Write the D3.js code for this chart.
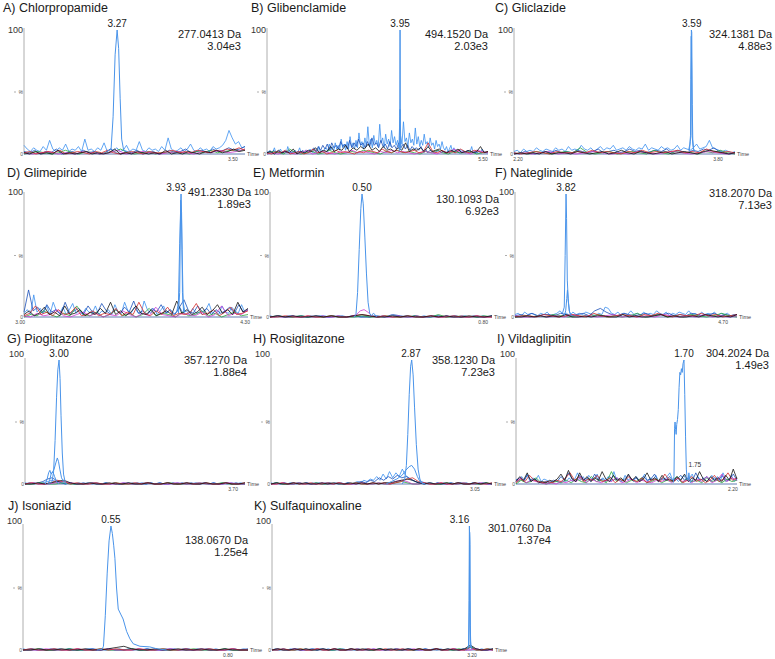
<!DOCTYPE html>
<html><head><meta charset="utf-8">
<script src="https://cdn.jsdelivr.net/npm/d3@7"></script>
<style>
body{margin:0;background:#fff}
svg{display:block}
text{font-family:"Liberation Sans",Arial,sans-serif}
</style>
</head><body>
<svg id="chart" width="775" height="659"></svg>
<script>
// ---------------- DATA ----------------
const titles = ["A) Chlorpropamide","B) Glibenclamide","C) Gliclazide","D) Glimepiride","E) Metformin","F) Nateglinide","G) Pioglitazone","H) Rosiglitazone","I) Vildaglipitin","J) Isoniazid","K) Sulfaquinoxaline"];
const massLabels = ["277.0413 Da","494.1520 Da","324.1381 Da","491.2330 Da","130.1093 Da","318.2070 Da","357.1270 Da","358.1230 Da","304.2024 Da","138.0670 Da","301.0760 Da"];
const intensityLabels = ["3.04e3","2.03e3","4.88e3","1.89e3","6.92e3","7.13e3","1.88e4","7.23e3","1.49e3","1.25e4","1.37e4"];
const peakTimes = [3.27,3.95,3.59,3.93,0.50,3.82,3.00,2.87,1.70,0.55,3.16];
const peakLabels = ["3.27","3.95","3.59","3.93","0.50","3.82","3.00","2.87","1.70","0.55","3.16"];
const timeDomains = [[3.085,3.524],[1.464,5.593],[2.168,3.936],[3.022,4.317],[0.272,0.822],[3.534,4.778],[2.863,3.748],[2.476,3.098],[-0.014,2.241],[0.362,0.843],[0,3.536]];
const timeTicks = [[3.50],[5.50],[2.20,3.80],[3.00,4.30],[0.80],[4.70],[3.70],[3.05],[2.20],[0.80],[3.20]];
const extraPeakLabels = [{panel:8, t:1.75, v:12, text:"1.75"}];

// main chromatogram peaks: [time, relative intensity %]
const mainTraces = [
  [[3.250,2],[3.258,4],[3.262,30],[3.266,80],[3.270,100],[3.273,85],[3.276,45],[3.279,12],[3.283,3],[3.290,2]],
  [[3.930,5],[3.945,30],[3.950,100],[3.955,25],[3.965,6]],
  [[3.565,3],[3.575,8],[3.580,15],[3.583,60],[3.587,100],[3.590,98],[3.594,40],[3.598,12],[3.605,4],[3.615,2]],
  [[3.905,4],[3.915,12],[3.922,60],[3.930,100],[3.936,55],[3.942,12],[3.952,4]],
  [[0.480,0],[0.485,2],[0.489,20],[0.493,55],[0.497,88],[0.500,100],[0.503,92],[0.507,65],[0.511,35],[0.515,12],[0.519,3],[0.523,1],[0.528,3],[0.532,2],[0.536,0]],
  [[3.800,3],[3.810,8],[3.815,50],[3.820,100],[3.823,80],[3.827,30],[3.832,15],[3.838,5],[3.845,2]],
  [[2.960,0],[2.972,2],[2.978,10],[2.984,35],[2.990,70],[2.995,92],[3.000,100],[3.004,85],[3.008,55],[3.013,25],[3.018,8],[3.024,2],[3.030,0]],
  [[2.845,0],[2.852,3],[2.857,15],[2.861,40],[2.865,72],[2.869,95],[2.872,100],[2.876,88],[2.880,62],[2.885,32],[2.890,12],[2.895,4],[2.900,1],[2.910,0]],
  [[1.590,1],[1.598,6],[1.604,45],[1.609,50],[1.614,44],[1.620,40],[1.626,48],[1.634,52],[1.642,60],[1.650,78],[1.658,90],[1.666,88],[1.674,93],[1.682,90],[1.690,97],[1.700,100],[1.708,72],[1.716,38],[1.724,12],[1.732,4],[1.742,3],[1.750,9],[1.758,4],[1.768,1]],
  [[0.520,0],[0.531,0.5],[0.534,3],[0.538,28],[0.542,62],[0.546,88],[0.550,100],[0.553,94],[0.556,84],[0.5585,74],[0.562,50],[0.5656,33],[0.5707,29],[0.576,25],[0.5835,15],[0.5906,9],[0.5977,5],[0.612,3],[0.633,2.5],[0.6477,1],[0.669,0]],
  [[3.130,1],[3.145,4],[3.152,40],[3.158,100],[3.163,90],[3.168,40],[3.175,8],[3.185,2],[3.200,1]]
];
// secondary traces under the main peaks
const secondTraces = [
  [],
  [[[3.935,2],[3.945,15],[3.950,36],[3.955,12],[3.965,3]]],
  [[[3.570,2],[3.578,10],[3.582,14],[3.586,95],[3.589,70],[3.593,15],[3.600,6],[3.610,2]]],
  [[[3.915,3],[3.922,20],[3.928,95],[3.933,85],[3.938,20],[3.945,4]]],
  [],
  [[[3.810,1],[3.818,5],[3.824,15],[3.828,22],[3.833,12],[3.840,4],[3.850,1]]],
  [[[2.955,0],[2.962,3],[2.968,8],[2.975,10],[2.980,12],[2.987,17],[2.993,21],[2.998,18],[3.003,12],[3.010,5],[3.020,1]],
   [[2.945,0],[2.952,4],[2.958,9],[2.963,11],[2.968,8],[2.975,10],[2.982,6],[2.990,2],[3.000,0]]],
  [[[2.800,0],[2.815,2],[2.830,4],[2.845,7],[2.855,11],[2.865,14],[2.872,15],[2.880,12],[2.888,6],[2.895,2],[2.905,0]]],
  [],
  [],
  [[[3.150,2],[3.157,30],[3.162,95],[3.167,85],[3.172,20],[3.180,4],[3.190,1]]]
];

// baseline noise traces, evenly sampled over each panel's time range (%)
const noiseBlue = [
  [7,4,2,5,3,2,6,3,11,4,2,5,3,8,2,4,3,6,2,12,3,4,2,5,3,9,2,4,3,5,2,3,7,2,4,3,10,3,2,5,3,4,2,6,3,13,4,2,3,5,2,4,8,3,2,5,3,4,2,6,4,5,7,11,19,13,8,10,5,6],
  [2,1,3,1,2,5,1,2,1,4,2,1,3,1,6,2,1,2,1,3,1,2,5,1,2,1,3,2,1,4,2,1,3,1,2,6,1,3,2,4,
   5,2,8,3,6,2,9,4,7,3,12,5,8,3,10,4,14,6,9,4,11,5,17,7,10,4,13,6,22,7,12,5,15,8,11,6,24,9,13,5,16,8,12,6,19,9,14,7,11,5,15,8,26,10,13,6,17,9,12,7,21,8,14,6,11,7,16,8,10,5,13,7,9,4,11,6,8,4,10,5,
   3,6,2,4,7,2,5,2,3,1,4,2,3,2,1,3,1,2,6,1,2,1,3,2,1,4,2,1,2,1],
  [2,3,1,4,2,3,2,5,3,2,4,3,2,5,3,4,2,6,3,4,3,7,4,3,5,2,4,6,3,5,4,7,3,4,5,3,6,4,3,5,4,8,3,5,4,3,6,4,5,3,4,7,3,5,4,3,5,8,4,5,6,11,5,4,3,2,3,2,1,2],
  [3,6,2,18,4,7,3,9,2,12,5,3,8,2,6,11,3,5,2,7,4,3,9,2,5,3,6,2,10,4,3,12,5,3,8,4,2,13,6,3,7,2,5,9,3,6,2,4,8,3,5,2,7,3,4,2,6,11,3,5,2,9,4,3,8,5,3,10,4,6],
  [1,0,1,0,1,1,0,1,0,1,0,1,1,0,1,0,1,0,1,1,0,1,0,1,0,1,0,1,1,0,1,0,1,0,1,0,1,1,0,1,0,1,0,1,0,1,0,1,0,1],
  [2,3,1,4,2,3,2,1,3,2,4,1,2,3,5,2,3,1,4,2,3,2,4,3,2,1,3,2,8,7,3,2,4,1,3,2,5,2,3,1,4,2,3,2,5,3,2,4,1,3,2,4,3,2,5,2,3,1,4,2,3,2,4,1,3,2,3,1,2,2],
  [1,0,1,0,1,2,3,2,1,0,1,0,1,0,1,0,1,0,1,0,1,0,1,0,1,0,1,0,1,0,1,0,1,0,1,0,1,0,1,0,1,0,1,0,1,0,1,0,1,0],
  [1,0,1,0,1,0,1,1,0,1,0,1,0,1,0,1,0,1,1,0,1,0,1,0,1,0,1,2,1,3,2,4,3,6,3,8,4,10,5,9,6,12,7,5,3,2,1,2,1,0,1,0,1,0,1,0,1,0,1,1,0,1,0,1,0,1,0,1,0,1],
  [4,2,6,3,8,2,5,3,7,2,4,3,2,1,3,2,1,3,2,5,2,4,9,3,6,2,7,4,3,8,2,5,3,6,2,10,3,4,2,7,3,5,2,6,3,4,8,2,5,3,7,2,4,3,6,9,3,5,2,4,7,3,5,8,2,6,3,5,2,4,7,3,6,2,9,4,3,7,2,5],
  [1,0,1,0,1,0,1,0,1,0,1,0,1,0,1,1,0,1,0,1,0,1,0,1,0,1,0,1,0,1,0,1,0,1,0,1,1,0,1,0,1,0,1,0,1,0,1,0,1,0],
  [0,1,0,1,0,1,0,1,0,1,0,1,0,1,0,1,0,1,0,1,0,1,0,1,0,1,0,1,0,1,0,1,0,1,0,1,0,1,0,1,0,1,0,1,0,1,0,1,0,1,0,1,0,3,1,0,1,0,1,0]
];
const noiseNavy = [
  [2,1,3,0,2,1,4,0,1,2,0,3,1,2,0,1,4,1,0,2,1,3,0,1,2,0,1,3,1,2,4,1,2,3,1,4,2,3,5,3,4,6],
  [1,2,1,3,1,2,1,1,2,1,3,1,2,1,2,1,3,1,2,2,
   3,5,2,6,3,7,4,8,3,9,5,7,4,10,6,8,4,11,5,9,6,12,7,9,5,10,6,13,7,9,5,11,6,8,4,10,5,7,4,9,5,8,4,7,3,6,4,5,3,6,
   2,4,1,3,2,1,2,3,1,2,1,2,1,3,1,2,1,1,2,1,3,1,2,1,1,2,1,2,1,1],
  [1,0,2,1,0,1,2,1,3,1,2,1,3,2,1,2,4,1,2,3,1,2,4,2,3,1,2,3,2,4,1,3,2,1,3,2,4,3,5,2,1,0,1],
  [4,22,5,8,3,10,4,6,2,12,3,5,7,2,9,4,3,11,5,2,6,3,8,4,13,3,5,2,7,4,10,3,6,2,8,14,5,3,9,4,7,2,6,3,5,8,3,10,4,6],
  [0,1,0,0,1,0,1,0,0,1,0,1,0,0,1,0,2,1,0,1,0,0,1,0,1,0,0,1,0,1],
  [1,2,1,3,1,2,2,1,3,2,1,2,3,1,5,7,4,2,1,3,2,1,2,3,1,2,2,3,1,2,1,3,2,1,2,3,1,2,1,2],
  [0,1,0,1,2,4,5,3,1,0,1,0,0,1,0,1,0,0,1,0,1,0,0,1,0,1,0,0,1,0,1,0,0,1,0,1,0,1,0,0,1,0,1,0,0,1,0,1,0,0],
  [0,1,0,1,0,0,1,0,1,0,1,0,0,1,0,1,0,1,0,1,2,1,3,2,5,3,6,4,7,5,6,4,2,1,0,1,0,1,0,0,1,0,1,0,0,1,0,1,0,0],
  [3,5,2,7,3,4,2,1,2,1,3,2,6,3,9,4,2,7,3,5,2,8,3,4,2,6,3,5,2,4,7,3,5,2,6,3,4,8,2,5,3,6,2,4,7,3,5,2,9,3,4,6,2,5,3,7,2,4,8,3],
  [0,1,0,0,1,0,1,0,0,1,0,1,0,0,1,0,1,0,0,1,0,1,0,0,1,0,0,1,0,1],
  [0,0,1,0,1,0,0,1,0,1,0,0,1,0,1,0,0,1,0,1,0,0,1,0,1,0,0,1,0,1,0,0,1,0,1,2,1,0,0,1]
];
const noiseBlack = [
  [1,0,2,0,1,0,3,0,1,0,1,2,0,1,0,1,4,0,1,0,2,1,0,1,0,3,0,1,0,2,1,0,2,1,3,1,2,4,2,3],
  [1,2,0,3,1,2,1,4,0,2,1,3,2,5,1,3,2,6,2,4,3,7,2,5,3,6,4,8,3,5,2,6,3,4,2,5,3,9,2,4,3,5,2,6,2,3,4,2,1,3,2,4,1,2,3,1,2,6,1,2],
  [0,1,0,1,0,2,0,1,1,0,2,1,0,1,2,0,1,3,1,0,2,1,0,1,2,0,1,2,1,0,2,3,2,1,0,1],
  [2,5,1,3,8,2,4,1,9,2,3,6,1,4,2,7,3,12,2,5,1,4,9,3,2,6,1,3,5,2,13,3,6,2,4,8,2,5,10,3,6,2,12,4,7],
  [0,1,0,1,0,0,1,0,1,0,0,1,2,1,0,0,1,0,1,0,0,1,0,1,0,0,1,0,0,1],
  [0,0,1,0,1,0,1,0,2,0,0,1,0,1,1,0,0,2,0,1,0,0,1,2,0,1,0,0,1,0,2,1,0,1,0,2],
  [0,0,1,0,1,2,3,1,0,0,1,0,0,1,0,0,1,0,0,1,0,0,1,0,0,1,0,0,1,0,0,1,0,0,1],
  [0,1,0,0,1,0,1,0,0,1,0,1,0,0,1,0,1,0,1,0,1,1,2,3,4,3,1,0,1,0,0,1,0,1,0,0,1,0,1,0],
  [2,6,3,9,2,4,1,2,1,3,2,4,8,3,11,4,2,9,3,6,2,5,3,10,4,2,7,3,5,2,8,3,6,2,4,9,3,5,2,7,3,4,2,6,3,8,2,5,3,10,4,2,6,3,5,2,7,3,12,4],
  [0,0,1,0,0,1,0,0,1,0,0,1,2,3,1,0,0,1,0,0,1,0,0,1,0,0,1,0,0,0],
  [0,1,0,0,1,0,1,0,0,1,0,1,0,0,1,0,1,0,0,1,0,1,0,0,1,0,1,0,0,1,0,1,0,0,1,4,1,0,0,1]
];
const noiseRed = [
  [1,2,0,1,2,1,3,0,1,2,1,0,2,1,3,1,0,1,2,1,0,2,1,1,2,3,1,2,1,3,2,1,3,2,4,3,5,3],
  [1,0,2,1,3,0,1,2,0,1,4,1,2,0,1,3,1,2,1,0,2,1,3,2,1,4,2,1,3,2,1,2,3,1,2,9,2,1,3,1,2,1,4,2,1,3,2,1,2],
  [1,0,1,2,1,0,2,1,1,2,1,3,1,2,1,0,2,1,3,1,2,1,2,3,1,2,1,4,2,1,2,1],
  [1,3,9,2,4,1,6,2,3,8,1,2,5,1,3,2,7,1,4,2,12,3,1,5,2,8,1,3,2,4,11,2,3,6,1,4,8,2,3,5],
  [0,0,1,0,0,1,0,0,1,0,0,1,2,1,0,1,0,0,1,0,0,1,0,0,1,0,0,1,0,0],
  [0,1,1,0,2,1,0,1,2,1,0,3,1,0,1,2,1,0,2,1,3,1,0,2,1,1,3,1,2,0,1,2],
  [0,1,0,0,1,3,2,0,1,0,0,1,0,0,1,0,0,1,0,1,0,0,1,0,0,1,0,0,1,0,0,1,0,0,1],
  [0,0,1,0,1,0,0,1,0,0,1,0,1,0,0,1,0,0,1,0,1,0,1,2,4,5,2,1,0,0,1,0,0,1,0,0,1,0,0,1],
  [1,4,2,7,3,2,1,2,1,3,2,5,9,3,6,2,4,3,7,2,3,5,1,4,2,6,3,2,5,1,3,4,2,8,3,2,5,1,3,6,2,4,1,3,7,2,4,9,3,5],
  [0,1,0,0,1,0,0,1,0,0,1,0,1,0,0,1,0,0,1,0,0,1,0,0,1,0,0,1,0,0],
  [0,0,1,0,0,1,0,0,1,0,0,1,0,0,1,0,0,1,0,0,1,0,0,1,0,0,1,0,0,1,0,0,1,0,0,2,0,0,1,0]
];
const noiseGreen = [
  [0,1,2,1,0,1,3,1,0,2,1,0,1,2,4,1,0,1,2,0,1,1,2,1,0,2,1,3,1,2,3,2,4],
  [0,2,1,0,4,1,0,1,2,0,1,3,1,0,1,2,1,3,2,1,0,2,1,3,1,2,1,0,2,1,3,1,0,2,1,1,2,0,1,2],
  [0,1,0,2,1,0,1,2,1,5,1,0,1,2,0,1,2,1,0,3,1,0,2,1,1,0,2,1,3,1,0],
  [0,2,1,5,2,0,3,1,9,2,1,4,0,2,6,1,3,0,2,7,1,3,2,0,4,1,2,5,1,3,0,2,4,1,2],
  [0,1,0,0,1,0,0,0,1,0,0,0,1,0,0,1,0,0,0,1,0,0,2,0,0,1,0,0,1,0],
  [0,1,0,1,0,2,1,0,1,0,1,2,0,1,0,1,3,0,1,2,0,1,0,2,1,0,1,3,1,0],
  [0,0,1,0,0,1,0,0,0,1,0,0,1,0,0,0,1,0,0,1,0,0,0,1,0,0,1,0,0,0],
  [0,1,0,0,0,1,0,0,1,0,0,0,1,0,0,1,0,0,0,1,0,0,1,2,1,0,0,1,0,0,0,1,0,0,1,0,0,0,1,0],
  [0,3,1,2,5,1,0,1,2,1,3,1,4,2,1,6,2,3,1,10,2,4,1,3,2,5,1,2,4,1,3,2,6,1,4,2,3,1,5,2,3,1,4,2,3],
  [0,0,1,0,0,0,1,0,0,0,1,0,0,0,1,0,0,0,1,0,0,0,1,0,0,0,1,0,0,0],
  [0,1,0,0,0,1,0,0,1,0,0,0,1,0,0,1,0,0,0,1,0,0,1,0,0,0,1,0,0,1,0,0,0,1,0,3,0,0,1,0]
];
const noiseMagenta = [
  [1,0,1,2,0,1,0,2,1,0,1,3,0,1,2,1,0,1,2,1,0,2,1,3,1,2,4],
  [0,1,0,2,1,0,1,3,0,1,2,1,0,2,1,3,1,2,1,0,2,1,3,1,2,1,0,1,2,1,0,2,1,4,2,1,0,3,2,1],
  [0,1,0,1,2,0,1,0,1,2,1,0,1,0,2,1,0,1,2,1,0,1,2,1,0,1],
  [1,0,3,1,2,6,1,0,2,4,1,3,0,2,1,5,2,0,3,1,8,2,1,0,3,2,1,4,0,2,9,1,3,2,6],
  [0,0,1,0,0,0,1,0,0,0,1,0,0,0,1,0,0,0,1,0,0,0,1,2,5,6,4,1,0,0,1,0,0,0,1,0,0,0,0,1,0,0,0,1,0,0,0,1,0,0,0,1,0,0,0,1,0,0,0,0],
  [1,0,0,1,0,1,0,2,0,1,0,1,2,0,1,0,1,0,2,1,0,1,0,2,0,1,0,1],
  [0,1,0,0,1,2,1,0,0,1,0,0,0,1,0,0,1,0,0,0,1,0,0,1,0,0,0,1,0,0],
  [0,0,1,0,0,1,0,0,0,1,0,0,1,0,0,0,1,0,0,1,0,0,2,3,2,0,0,1,0,0,1,0,0,0,1,0,0,1,0,0],
  [2,5,1,3,2,1,0,1,0,2,1,3,2,6,1,4,2,1,3,2,5,1,2,4,1,3,2,1,3,2,4,1,5,2,3,1,4,2,6,1,3,8,2,5,3],
  [0,0,0,1,0,0,0,1,0,0,0,1,0,0,0,1,0,0,0,1,0,0,0,1,0,0,0,1,0,0],
  [0,1,0,0,1,0,0,0,1,0,0,1,0,0,0,1,0,0,1,0,0,0,1,0,0,1,0,0,0,1,0,0,1,0,0,0,1,0,0,0]
];

// ---------------- LAYOUT / STYLE ----------------
const plotX0 = [24,267,514,24,270,515,25,271,516,23,272];
const plotX1 = [245,488,735,248,492,737,245,492,737,248,493];
const rowTop = [30,194,360,526];
const rowBase = [154,317,484,650];
const row100 = [30,192,354,521];
const titleX = [3,251,495,7,253,495,7,253,497,8,254];
const titleY = [12,177,343,510];
const massPos = [[241,38],[488,38],[772,38],[251,196],[499,203],[772,197],[247,364],[495,364],[769,357],[248,544],[551,532]];
const peakLabelDx = [0,0,0,-5,0,0,0,0,0,0,-10];
const colors = {blue:"#3a8ff0", navy:"#1b4fb8", black:"#141414", red:"#d42a2a", green:"#2aa43a", magenta:"#d03ad0", main:"#4a94ea"};

// ---------------- DRAW ----------------
const svg = d3.select("#chart");
const noiseSets = [["blue",noiseBlue],["navy",noiseNavy],["green",noiseGreen],["magenta",noiseMagenta],["red",noiseRed],["black",noiseBlack]];

titles.forEach((title, i) => {
  const r = Math.floor(i / 3);
  const g = svg.append("g");
  const x = d3.scaleLinear().domain(timeDomains[i]).range([plotX0[i], plotX1[i]]);
  const y = d3.scaleLinear().domain([0, 100]).range([rowBase[r], rowTop[r]]);
  const line = d3.line().x(d => x(d[0])).y(d => y(d[1]));

  // title
  g.append("text").attr("x", titleX[i]).attr("y", titleY[r]).attr("font-size", 12.5).attr("fill", "#1a1a1a").text(title);

  // axes
  g.append("line").attr("x1", plotX0[i]).attr("x2", plotX0[i]).attr("y1", rowTop[r] - 2).attr("y2", rowBase[r]).attr("stroke", "#9a9a9a").attr("stroke-width", 0.8);
  g.append("line").attr("x1", plotX0[i]).attr("x2", plotX1[i]).attr("y1", rowBase[r]).attr("y2", rowBase[r]).attr("stroke", "#3a5aa0").attr("stroke-width", 0.8);
  g.append("text").attr("x", plotX0[i] - 1).attr("y", row100[r] + 3).attr("text-anchor", "end").attr("font-size", 9).attr("fill", "#333").text("100");
  g.append("text").attr("x", plotX0[i] - 1).attr("y", rowBase[r] + 2).attr("text-anchor", "end").attr("font-size", 5).attr("fill", "#555").text("0");
  const ym = y(50);
  g.append("text").attr("x", plotX0[i] - 1).attr("y", ym + 2).attr("text-anchor", "end").attr("font-size", 5).attr("font-style", "italic").attr("fill", "#555").text("%");
  g.append("line").attr("x1", plotX0[i] - 10).attr("x2", plotX0[i] - 8).attr("y1", ym).attr("y2", ym).attr("stroke", "#999").attr("stroke-width", 0.8);

  // time ticks
  timeTicks[i].forEach(t => {
    g.append("text").attr("x", x(t)).attr("y", rowBase[r] + 7).attr("text-anchor", "middle").attr("font-size", 5).attr("fill", "#444").text(t.toFixed(2));
  });
  g.append("text").attr("x", plotX1[i] + 2).attr("y", rowBase[r] + 2).attr("font-size", 5.5).attr("fill", "#444").text("Time");

  // noise traces
  noiseSets.forEach(([c, set]) => {
    const vals = set[i];
    if (!vals || !vals.length) return;
    const [d0, d1] = timeDomains[i];
    const pts = vals.map((v, k) => [d0 + (d1 - d0) * k / (vals.length - 1), v]);
    g.append("path").attr("d", line(pts)).attr("fill", "none").attr("stroke", colors[c]).attr("stroke-width", 0.8);
  });

  // secondary peak traces and main peak
  secondTraces[i].forEach(tr => {
    g.append("path").attr("d", line(tr)).attr("fill", "none").attr("stroke", colors.main).attr("stroke-width", 1);
  });
  g.append("path").attr("d", line(mainTraces[i])).attr("fill", "none").attr("stroke", colors.main).attr("stroke-width", 1);

  // peak label
  g.append("text").attr("x", x(peakTimes[i]) + peakLabelDx[i]).attr("y", rowTop[r] - 3).attr("text-anchor", "middle").attr("font-size", 10).attr("fill", "#1a1a1a").text(peakLabels[i]);

  // mass + intensity
  g.append("text").attr("x", massPos[i][0]).attr("y", massPos[i][1]).attr("text-anchor", "end").attr("font-size", 11).attr("fill", "#1a1a1a").text(massLabels[i]);
  g.append("text").attr("x", massPos[i][0]).attr("y", massPos[i][1] + 11.5).attr("text-anchor", "end").attr("font-size", 11).attr("fill", "#1a1a1a").text(intensityLabels[i]);

  // extra labels
  extraPeakLabels.filter(e => e.panel === i).forEach(e => {
    g.append("text").attr("x", x(e.t) + 6).attr("y", y(e.v) - 2).attr("text-anchor", "middle").attr("font-size", 6.5).attr("fill", "#333").text(e.text);
  });
});
</script>
</body></html>
